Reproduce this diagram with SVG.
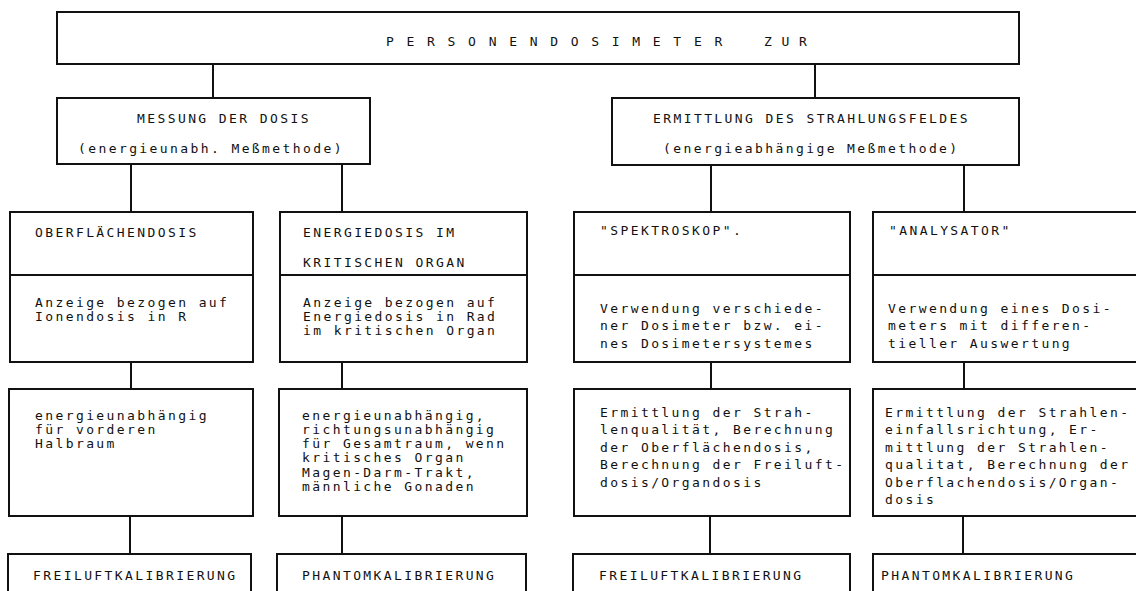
<svg xmlns="http://www.w3.org/2000/svg" width="1136" height="591" viewBox="0 0 1136 591">
<style>
.box{fill:none;stroke:#111;stroke-width:2}
.ln{stroke:#111;stroke-width:2;fill:none}
text{font-family:"DejaVu Sans Mono","Liberation Mono",monospace;font-size:13px;fill:#111;letter-spacing:2.4px}
.title{letter-spacing:12.7px}
.zur{letter-spacing:9.7px}
</style>
<rect width="1136" height="591" fill="#fff"/>
<g id="connectors">
<line class="ln" x1="213" y1="64" x2="213" y2="98"/>
<line class="ln" x1="815" y1="64" x2="815" y2="98"/>
<line class="ln" x1="131" y1="164" x2="131" y2="212"/>
<line class="ln" x1="342" y1="164" x2="342" y2="212"/>
<line class="ln" x1="711" y1="165" x2="711" y2="212"/>
<line class="ln" x1="964" y1="165" x2="964" y2="212"/>
<line class="ln" x1="131" y1="362" x2="131" y2="389"/>
<line class="ln" x1="342" y1="362" x2="342" y2="389"/>
<line class="ln" x1="711" y1="362" x2="711" y2="389"/>
<line class="ln" x1="964" y1="362" x2="964" y2="389"/>
<line class="ln" x1="130" y1="516" x2="130" y2="554"/>
<line class="ln" x1="342" y1="516" x2="342" y2="554"/>
<line class="ln" x1="710" y1="516" x2="710" y2="554"/>
<line class="ln" x1="963" y1="516" x2="963" y2="554"/>
</g>
<g id="root">
<rect class="box" x="57" y="12" width="962" height="52"/>
<text class="title" x="386" y="45.5">PERSONENDOSIMETER<tspan class="zur" x="764">ZUR</tspan></text>
</g>
<g id="messung">
<rect class="box" x="57" y="98" width="313" height="66"/>
<text x="137" y="123">MESSUNG DER DOSIS</text>
<text x="78" y="152.5">(energieunabh. Meßmethode)</text>
</g>
<g id="ermittlung">
<rect class="box" x="612" y="98" width="407" height="67"/>
<text x="653" y="123">ERMITTLUNG DES STRAHLUNGSFELDES</text>
<text x="663" y="152.5">(energieabhängige Meßmethode)</text>
</g>
<g id="oberflaechendosis">
<rect class="box" x="10" y="212" width="243" height="150"/>
<line class="ln" x1="10" y1="275" x2="253" y2="275"/>
<text x="35" y="236.5">OBERFLÄCHENDOSIS</text>
<text x="35" y="306.5">Anzeige bezogen auf</text>
<text x="35" y="320.5">Ionendosis in R</text>
</g>
<g id="energiedosis">
<rect class="box" x="280" y="212" width="247" height="150"/>
<line class="ln" x1="280" y1="275" x2="527" y2="275"/>
<text x="303" y="236.5">ENERGIEDOSIS IM</text>
<text x="303" y="266.5">KRITISCHEN ORGAN</text>
<text x="303" y="306.5">Anzeige bezogen auf</text>
<text x="303" y="320.5">Energiedosis in Rad</text>
<text x="303" y="334.5">im kritischen Organ</text>
</g>
<g id="spektroskop">
<rect class="box" x="574" y="212" width="276" height="150"/>
<line class="ln" x1="574" y1="275" x2="850" y2="275"/>
<text x="600" y="234.5">"SPEKTROSKOP".</text>
<text x="600" y="312.5">Verwendung verschiede-</text>
<text x="600" y="330">ner Dosimeter bzw. ei-</text>
<text x="600" y="347.5">nes Dosimetersystemes</text>
</g>
<g id="analysator">
<rect class="box" x="873" y="212" width="270" height="150"/>
<line class="ln" x1="873" y1="275" x2="1143" y2="275"/>
<text x="889" y="234.5">"ANALYSATOR"</text>
<text x="888" y="312.5">Verwendung eines Dosi-</text>
<text x="888" y="330">meters mit differen-</text>
<text x="888" y="347.5">tieller Auswertung</text>
</g>
<g id="eigenschaft-a">
<rect class="box" x="9" y="389" width="244" height="127"/>
<text x="35" y="419.5">energieunabhängig</text>
<text x="35" y="433.5">für vorderen</text>
<text x="35" y="447.5">Halbraum</text>
</g>
<g id="eigenschaft-b">
<rect class="box" x="279" y="389" width="248" height="127"/>
<text x="302" y="419.5">energieunabhängig,</text>
<text x="302" y="433.8">richtungsunabhängig</text>
<text x="302" y="448.1">für Gesamtraum, wenn</text>
<text x="302" y="462.4">kritisches Organ</text>
<text x="302" y="476.7">Magen-Darm-Trakt,</text>
<text x="302" y="491">männliche Gonaden</text>
</g>
<g id="eigenschaft-c">
<rect class="box" x="574" y="389" width="276" height="127"/>
<text x="600" y="416.5">Ermittlung der Strah-</text>
<text x="600" y="434">lenqualität, Berechnung</text>
<text x="600" y="451.5">der Oberflächendosis,</text>
<text x="600" y="469">Berechnung der Freiluft-</text>
<text x="600" y="486.5">dosis/Organdosis</text>
</g>
<g id="eigenschaft-d">
<rect class="box" x="873" y="389" width="270" height="127"/>
<text x="885" y="416.5">Ermittlung der Strahlen-</text>
<text x="885" y="434">einfallsrichtung, Er-</text>
<text x="885" y="451.5">mittlung der Strahlen-</text>
<text x="885" y="469">qualitat, Berechnung der</text>
<text x="885" y="486.5">Oberflachendosis/Organ-</text>
<text x="885" y="504">dosis</text>
</g>
<g id="kalibrierung-a">
<rect class="box" x="8" y="554" width="243" height="60"/>
<text x="33" y="579.5">FREILUFTKALIBRIERUNG</text>
</g>
<g id="kalibrierung-b">
<rect class="box" x="277" y="554" width="249" height="60"/>
<text x="302" y="579.5">PHANTOMKALIBRIERUNG</text>
</g>
<g id="kalibrierung-c">
<rect class="box" x="573" y="554" width="277" height="60"/>
<text x="599" y="579.5">FREILUFTKALIBRIERUNG</text>
</g>
<g id="kalibrierung-d">
<rect class="box" x="873" y="554" width="270" height="60"/>
<text x="881" y="579.5">PHANTOMKALIBRIERUNG</text>
</g>
</svg>
